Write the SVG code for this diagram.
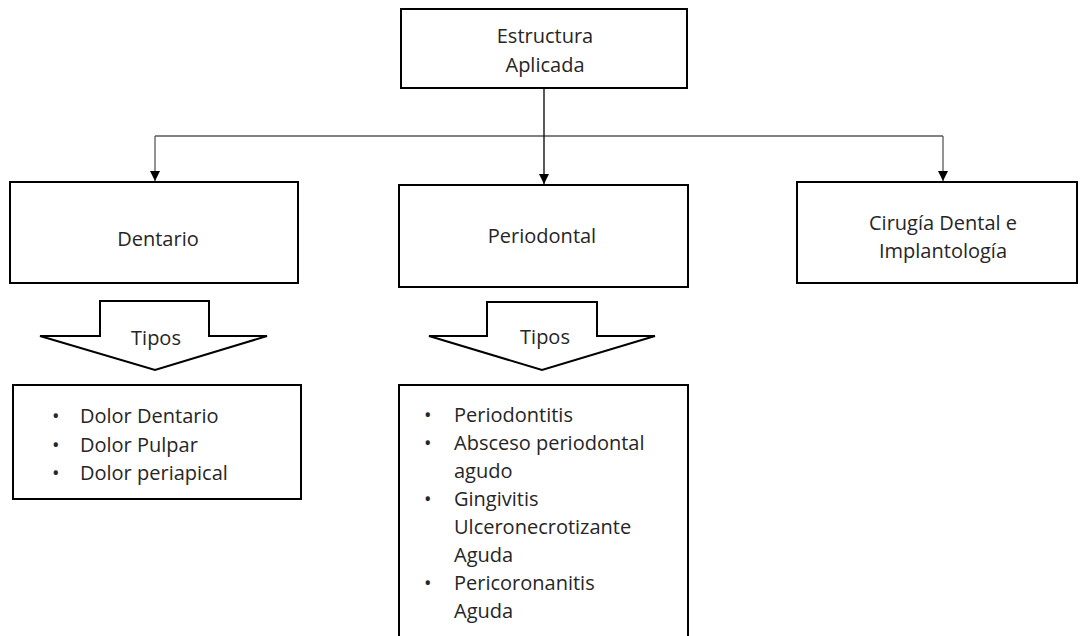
<svg xmlns="http://www.w3.org/2000/svg" width="1080" height="636" viewBox="0 0 1080 636">
<style>
.box{fill:#fff;stroke:#000;stroke-width:2}
.t{font-family:"Open Sans","Liberation Sans",sans-serif;font-size:20px;fill:#262626}
.c{text-anchor:middle}
.ln{fill:none;stroke:#000;stroke-width:1.3}
.gl{fill:none;stroke:#595959;stroke-width:1.3}
</style>
<defs>
<marker id="ah" viewBox="0 0 10 10" refX="10" refY="5" markerWidth="10" markerHeight="10" markerUnits="userSpaceOnUse" orient="auto">
<path d="M0,0 L10,5 L0,10 Z" fill="#000"/>
</marker>
</defs>
<rect width="1080" height="636" fill="#fff"/>
<g id="connectors">
<path class="gl" d="M155,136 H943"/>
<path class="gl" d="M155,136 V181" marker-end="url(#ah)"/>
<path class="gl" d="M943,136 V181" marker-end="url(#ah)"/>
<path class="ln" d="M544,88 V184" marker-end="url(#ah)"/>
</g>
<g id="root">
<rect class="box" x="401" y="9" width="286" height="79"/>
<text class="t c" x="545" y="43">Estructura</text>
<text class="t c" x="545" y="72">Aplicada</text>
</g>
<g id="dentario">
<rect class="box" x="10" y="182" width="288" height="101"/>
<text class="t c" x="158" y="246">Dentario</text>
</g>
<g id="periodontal">
<rect class="box" x="399" y="185" width="289" height="102"/>
<text class="t c" x="542" y="243">Periodontal</text>
</g>
<g id="cirugia">
<rect class="box" x="797" y="182" width="280" height="101"/>
<text class="t c" x="943" y="230">Cirugía Dental e</text>
<text class="t c" x="943" y="258">Implantología</text>
</g>
<g id="tipos1">
<path class="box" d="M100,301 H209 V336 H267 L155,370 L40,336 H100 Z"/>
<text class="t c" x="156" y="345">Tipos</text>
</g>
<g id="tipos2">
<path class="box" d="M487,302 H597 V336 H655 L542,370 L429,336 H487 Z"/>
<text class="t c" x="545" y="344">Tipos</text>
</g>
<g id="lista-dentario">
<rect class="box" x="13" y="385" width="288" height="114"/>
<text class="t" x="52" y="423">•</text><text class="t" x="80" y="423">Dolor Dentario</text>
<text class="t" x="52" y="452">•</text><text class="t" x="80" y="452">Dolor Pulpar</text>
<text class="t" x="52" y="480">•</text><text class="t" x="80" y="480">Dolor periapical</text>
</g>
<g id="lista-periodontal">
<rect class="box" x="399" y="385" width="289" height="260"/>
<text class="t" x="424" y="422">•</text><text class="t" x="454" y="422">Periodontitis</text>
<text class="t" x="424" y="450">•</text><text class="t" x="454" y="450">Absceso periodontal</text>
<text class="t" x="454" y="478">agudo</text>
<text class="t" x="424" y="506">•</text><text class="t" x="454" y="506">Gingivitis</text>
<text class="t" x="454" y="534">Ulceronecrotizante</text>
<text class="t" x="454" y="562">Aguda</text>
<text class="t" x="424" y="590">•</text><text class="t" x="454" y="590">Pericoronanitis</text>
<text class="t" x="454" y="618">Aguda</text>
</g>
</svg>
